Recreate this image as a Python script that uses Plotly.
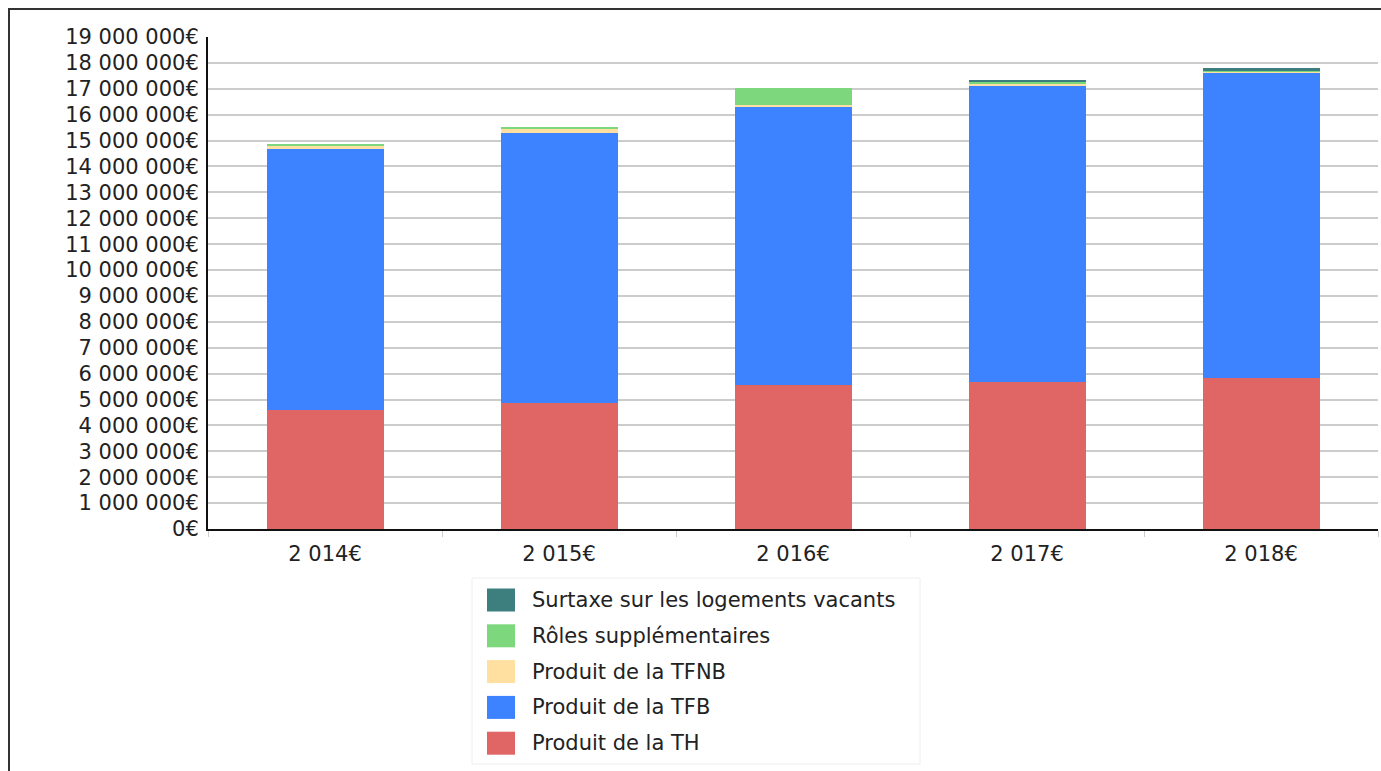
import plotly.graph_objects as go

# Données (en euros)
annees = ["2 014€", "2 015€", "2 016€", "2 017€", "2 018€"]
produit_th = [4590000, 4860000, 5560000, 5680000, 5830000]
produit_tfb = [10080000, 10440000, 10770000, 11450000, 11790000]
produit_tfnb = [150000, 150000, 50000, 60000, 40000]
roles_supp = [30000, 50000, 650000, 60000, 30000]
surtaxe_vacants = [0, 0, 0, 100000, 130000]

noms = [
    "Produit de la TH",
    "Produit de la TFB",
    "Produit de la TFNB",
    "Rôles supplémentaires",
    "Surtaxe sur les logements vacants",
]
couleurs = ["#E06666", "#3D82FF", "#FFE0A0", "#7DD87D", "#3D7F7F"]
series = [produit_th, produit_tfb, produit_tfnb, roles_supp, surtaxe_vacants]

y_ticks = list(range(0, 20000000, 1000000))
y_labels = [f"{v:,}".replace(",", " ") + "€" for v in y_ticks]

W, H = 1381, 771
L, R, T, B = 208, 3, 37, 242
PW, PH = W - L - R, H - T - B

def px_x(x):
    return (x - L) / PW

def px_y(y):
    return (H - B - y) / PH

fig = go.Figure()
for nom, couleur, vals in zip(noms, couleurs, series):
    fig.add_trace(go.Bar(
        x=annees, y=vals, name=nom, marker_color=couleur,
        marker_line_width=0, showlegend=False, width=0.5,
    ))

FONT = "DejaVu Sans"
FS = 21

# Légende dessinée à la main (grands carrés de couleur)
shapes = []
annotations = []
legende = list(zip(noms, couleurs))[::-1]
for i, (nom, couleur) in enumerate(legende):
    cy = 600 + i * 35.8
    shapes.append(dict(
        type="rect", xref="paper", yref="paper",
        x0=px_x(487), x1=px_x(515), y0=px_y(cy - 11.5), y1=px_y(cy + 11.5),
        fillcolor=couleur, line_width=0, layer="above",
    ))
    annotations.append(dict(
        x=px_x(530), y=px_y(cy), xref="paper", yref="paper",
        text=nom, showarrow=False, xanchor="left", yanchor="middle",
        font=dict(family=FONT, size=FS, color="#222222"),
    ))

# Cadre de la légende
shapes.append(dict(
    type="rect", xref="paper", yref="paper",
    x0=px_x(472), x1=px_x(920), y0=px_y(578), y1=px_y(764),
    line=dict(color="#EEEEEE", width=1), fillcolor="rgba(0,0,0,0)",
))
# Cadre extérieur
shapes.append(dict(
    type="rect", xref="paper", yref="paper",
    x0=px_x(9), x1=px_x(1400), y0=px_y(9), y1=px_y(790),
    line=dict(color="#333333", width=2), fillcolor="rgba(0,0,0,0)",
))

fig.update_layout(
    width=W, height=H,
    margin=dict(l=L, r=R, t=T, b=B),
    barmode="stack",
    bargap=0.5,
    plot_bgcolor="white",
    paper_bgcolor="white",
    font=dict(family=FONT, size=FS, color="#222222"),
    shapes=shapes,
    annotations=annotations,
    showlegend=False,
)
fig.update_yaxes(
    range=[0, 19000000],
    tickvals=y_ticks, ticktext=y_labels,
    showgrid=True, gridcolor="#CCCCCC", gridwidth=2,
    showline=True, linecolor="#111111", linewidth=2,
    ticks="", ticklabelstandoff=3,
    tickfont=dict(family=FONT, size=FS, color="#222222"),
    zeroline=False,
)
fig.update_xaxes(
    showline=True, linecolor="#111111", linewidth=2,
    ticks="outside", tickson="boundaries", ticklen=6, tickcolor="#CCCCCC",
    ticklabelstandoff=5,
    tickfont=dict(family=FONT, size=FS, color="#222222"),
    showgrid=False,
)

fig.write_html("out.html")
